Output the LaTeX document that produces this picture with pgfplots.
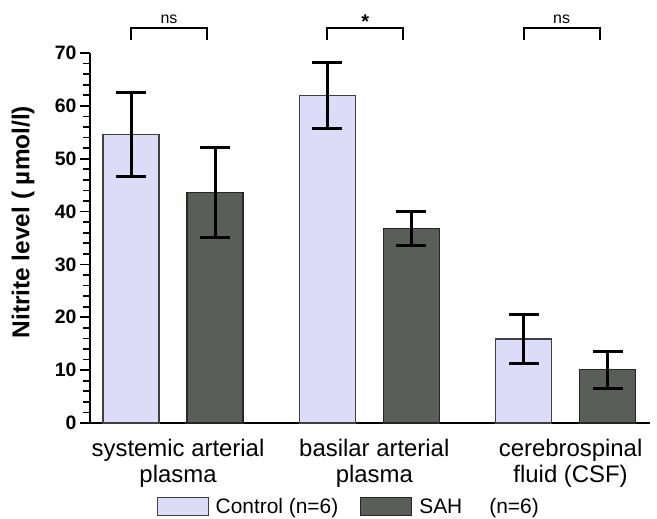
\documentclass[border=0pt]{standalone}
\usepackage{pgfplots}
\pgfplotsset{compat=1.18}
\usepackage{fontspec}
\setmainfont{Liberation Sans}
\definecolor{ctrl}{HTML}{DCDCF8}
\definecolor{sah}{HTML}{5A5E58}
\begin{document}
\begin{tikzpicture}
\begin{axis}[
  scale only axis, width=560bp, height=370bp,
  xmin=-0.423, xmax=2.43, ymin=0, ymax=70,
  axis x line*=bottom, axis y line*=left,
  axis line style={line width=2.2pt, -},
  ytick={0,10,...,70}, minor y tick num=4,
  y tick style={line width=1.6pt, black},
  major tick length=10bp, minor tick length=7bp,
  tick align=outside,
  xtick={0,1,2}, x tick style={draw=none},
  xticklabels={{systemic arterial\\plasma},{basilar arterial\\plasma},{cerebrospinal\\fluid (CSF)}},
  xticklabel style={align=center, font=\fontsize{24}{26}\selectfont, yshift=-3bp, xshift=5bp},
  yticklabel style={font=\fontsize{19.5}{21}\selectfont\bfseries},
  /pgf/number format/assume math mode=true,
  ylabel={Nitrite level ( µmol/l)},
  every axis y label/.style={at={(axis description cs:-0.1196,0.543)}, rotate=90, anchor=center,
    font=\fontsize{24.5}{26}\selectfont\bfseries},
  clip=false,
  legend style={at={(0.462,-0.225)}, anchor=center, draw=none, fill=none, legend columns=2,
    font=\fontsize{21}{24}\selectfont, inner sep=0pt,
    /tikz/every even column/.append style={column sep=20bp}},
  legend image code/.code={\draw[#1, line width=1pt] (0bp,-9bp) rectangle (51bp,9bp);},
]
\addplot[ybar, bar width=0.285, bar shift=0, fill=ctrl, draw=black!75, line width=1.2pt,
  error bars/.cd, y dir=both, y explicit,
  error bar style={line width=3pt, black},
  error mark options={rotate=90, mark size=15bp, line width=3pt, black}]
  coordinates {(-0.214,54.6) +- (0,7.95) (0.786,61.9) +- (0,6.25) (1.786,15.9) +- (0,4.65)};
\addlegendentry{\hspace{5bp}Control (n=6)}
\addplot[ybar, bar width=0.285, bar shift=0, fill=sah, draw=black!85, line width=1.2pt,
  error bars/.cd, y dir=both, y explicit,
  error bar style={line width=3pt, black},
  error mark options={rotate=90, mark size=15bp, line width=3pt, black}]
  coordinates {(0.214,43.6) +- (0,8.5) (1.214,36.8) +- (0,3.15) (2.214,10.1) +- (0,3.5)};
\addlegendentry{\hspace{5bp}SAH\hspace{27bp}(n=6)}
\draw[line width=2pt] (axis cs:-0.214,72.55) -- (axis cs:-0.214,74.7) -- (axis cs:0.173,74.7) -- (axis cs:0.173,72.55);
\draw[line width=2pt] (axis cs:0.786,72.55) -- (axis cs:0.786,74.7) -- (axis cs:1.173,74.7) -- (axis cs:1.173,72.55);
\draw[line width=2pt] (axis cs:1.786,72.55) -- (axis cs:1.786,74.7) -- (axis cs:2.173,74.7) -- (axis cs:2.173,72.55);
\node[font=\fontsize{16}{16}\selectfont, anchor=base] at (axis cs:-0.0205,75.5) {ns};
\node[font=\fontsize{20}{20}\selectfont\bfseries, anchor=base] at (axis cs:0.9795,74.6) {*};
\node[font=\fontsize{16}{16}\selectfont, anchor=base] at (axis cs:1.9795,75.5) {ns};
\end{axis}
\path (current axis.south west) ++(-90bp,-96bp) (current axis.north east) ++(7bp,53bp);
\end{tikzpicture}
\end{document}
